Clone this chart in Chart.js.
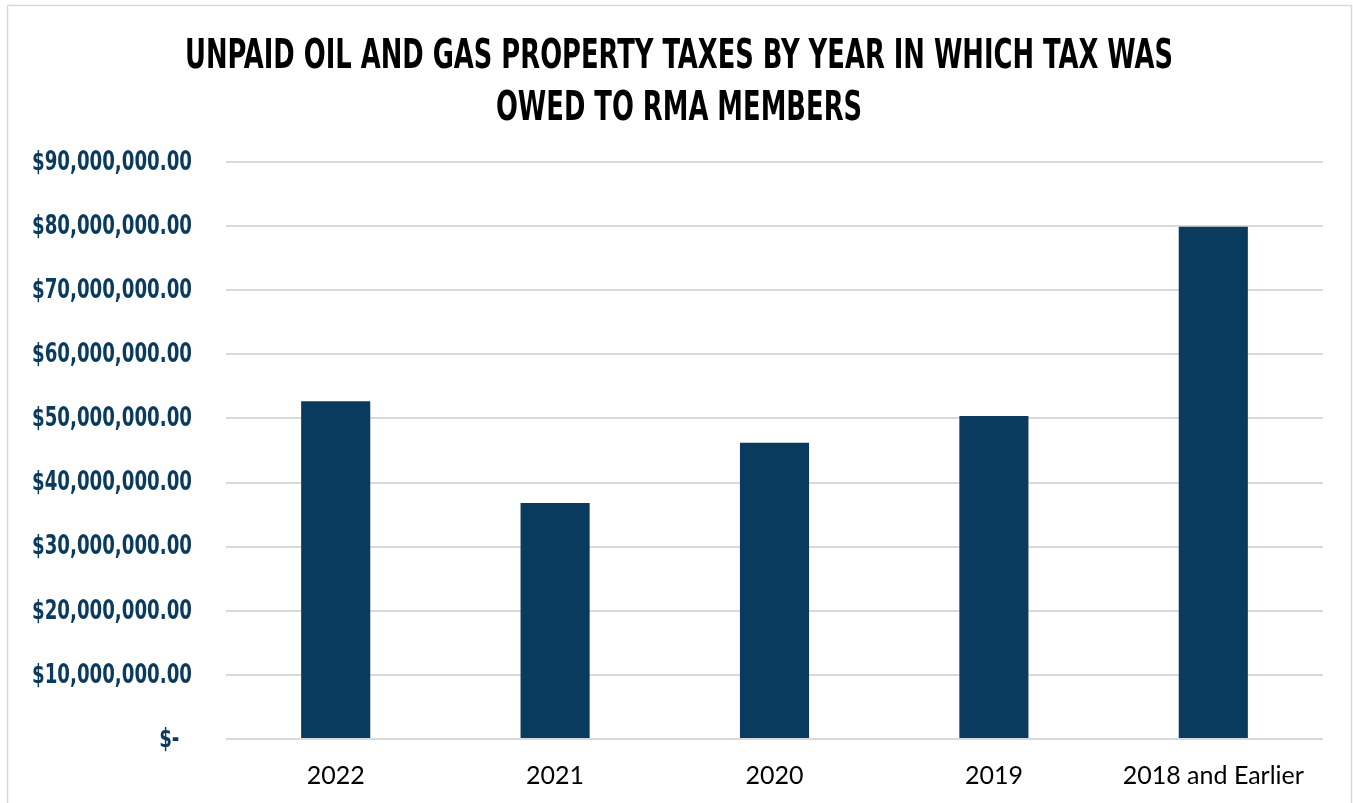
<!DOCTYPE html>
<html>
<head>
<meta charset="utf-8">
<script src="https://cdn.jsdelivr.net/npm/chart.js@4.4.1/dist/chart.umd.min.js"></script>
<style>
html,body{margin:0;padding:0;background:#fff;}
#wrap{width:1353px;height:803px;position:relative;}
</style>
</head>
<body>
<div id="wrap"><canvas id="c" width="1353" height="803"></canvas></div>
<script>
const categories = ["2022", "2021", "2020", "2019", "2018 and Earlier"];
const unpaidTaxes = [52700000, 36800000, 46200000, 50400000, 79900000];
const titleLines = ["UNPAID OIL AND GAS PROPERTY TAXES BY YEAR IN WHICH TAX WAS", "OWED TO RMA MEMBERS"];
const yMin = 0, yMax = 90000000, yStep = 10000000;

const navy = "#0b3a5f";
const condensed = "'DejaVu Sans Condensed', 'DejaVu Sans', sans-serif";

function moneyLabel(v) {
  if (v === 0) return '$-  ';
  return '$' + v.toLocaleString('en-US', { minimumFractionDigits: 2, maximumFractionDigits: 2 });
}

const framePlugin = {
  id: 'frame',
  beforeDraw(chart) {
    const ctx = chart.ctx;
    ctx.save();
    ctx.fillStyle = '#fff';
    ctx.fillRect(0, 0, chart.width, chart.height);
    ctx.strokeStyle = '#d9d9d9';
    ctx.lineWidth = 1.5;
    ctx.strokeRect(7.5, 5.5, 1344, 820);
    ctx.restore();
  }
};

// Draws title and y tick labels in a horizontally condensed bold face
const condensedTextPlugin = {
  id: 'condensedText',
  afterDraw(chart) {
    const ctx = chart.ctx;
    ctx.save();
    // Title
    ctx.font = 'bold 41px ' + condensed;
    ctx.fillStyle = '#000';
    ctx.textAlign = 'center';
    ctx.textBaseline = 'alphabetic';
    const w1 = ctx.measureText(titleLines[0]).width;
    const sx = 988 / w1;
    const cx = 679;
    const baselines = [68, 120];
    titleLines.forEach((line, i) => {
      ctx.save();
      ctx.translate(cx, baselines[i]);
      ctx.scale(sx, 1);
      ctx.fillText(line, 0, 0);
      ctx.restore();
    });
    // Y tick labels
    const ys = chart.scales.y;
    ctx.font = 'bold 26px ' + condensed;
    ctx.fillStyle = navy;
    ctx.textAlign = 'right';
    ctx.textBaseline = 'middle';
    const ref = ctx.measureText(moneyLabel(90000000)).width;
    const sy = 160 / ref;
    const rightX = ys.right - ys.options.ticks.padding;
    ys.ticks.forEach(t => {
      const y = ys.getPixelForValue(t.value) + 1;
      ctx.save();
      ctx.translate(rightX, y);
      ctx.scale(sy, 1);
      ctx.fillText(moneyLabel(t.value), 0, 0);
      ctx.restore();
    });
    ctx.restore();
  }
};

new Chart(document.getElementById('c'), {
  type: 'bar',
  data: {
    labels: categories,
    datasets: [{
      data: unpaidTaxes,
      backgroundColor: navy,
      borderWidth: 0,
      categoryPercentage: 1,
      barPercentage: 0.315
    }]
  },
  options: {
    responsive: false,
    animation: false,
    layout: { padding: { left: 0, right: 30, top: 162, bottom: 0 } },
    plugins: {
      legend: { display: false },
      tooltip: { enabled: false },
      title: { display: false }
    },
    scales: {
      x: {
        afterFit(scale) { scale.height = 64; },
        grid: { display: false, drawTicks: false },
        border: { display: false },
        ticks: { color: '#000', padding: 22, font: { family: "Lato, 'Open Sans', sans-serif", size: 25 } }
      },
      y: {
        min: yMin, max: yMax,
        afterFit(scale) { scale.width = 226; },
        grid: { color: '#d9d9d9', lineWidth: 2, drawTicks: false },
        border: { display: false },
        ticks: {
          display: false,
          stepSize: yStep,
          padding: 34,
          callback: moneyLabel
        }
      }
    }
  },
  plugins: [framePlugin, condensedTextPlugin]
});
</script>
</body>
</html>
